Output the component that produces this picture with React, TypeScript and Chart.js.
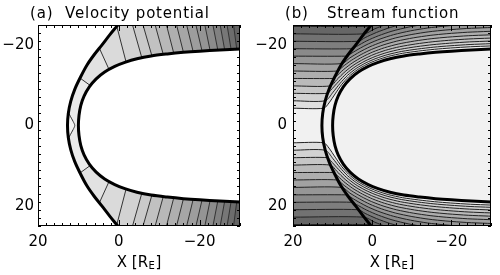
import React, { useEffect, useRef } from 'react';
import { Chart, registerables } from 'chart.js';

Chart.register(...registerables);

// ---------------- data ----------------
const X_MIN = -30;
const X_MAX = 20;
const Y_MIN = -25;
const Y_MAX = 25;
const X_TICKS = [20, 0, -20];
const Y_TICKS = [-20, 0, 20];
const MINOR_STEP = 2;

const PANEL_TAGS = ['(a)', '(b)'];
const PANEL_TITLES = ['Velocity potential', 'Stream function'];
const X_TITLE = ['X [R', 'E', ']'];

// Magnetopause, upper half (|y|), matched point by point with the bow shock below
const mpX = [10.0, 9.85, 9.4, 8.6, 7.3, 5.6, 3.5, 1.0, -1.5, -4.5, -8.0, -12.0, -16.0, -20.0, -25.0, -30.0, -35.0];
const mpY = [0, 2.5, 5.0, 7.3, 9.6, 11.6, 13.3, 14.7, 15.7, 16.6, 17.3, 17.8, 18.2, 18.5, 18.8, 19.0, 19.2];
// Bow shock, upper half (|y|)
const bsX = [12.7, 12.5, 11.9, 10.9, 9.5, 7.9, 6.1, 4.2, 2.2, 0.0, -2.5, -5.8, -9.5, -13.5, -18.5, -23.5, -28.5];
const bsY = [0, 3.0, 6.0, 9.0, 12.0, 15.0, 17.6, 20.0, 22.6, 25.3, 28.6, 33.0, 38.0, 43.0, 49.5, 56.0, 62.0];

// (a) velocity potential: small closed contour at the nose
const lensX = [12.6, 12.0, 11.3, 10.9, 11.3, 12.0, 12.6];
const lensY = [-3.5, -2.3, -1.0, 0, 1.0, 2.3, 3.5];
// (a) potential contours across the sheath (upper half; mirrored below)
const potInnerX = [7.0, 2.4, -1.8, -5.7, -8.2, -11.0, -13.6, -16.0, -18.4, -20.6, -22.6, -24.5, -26.2, -27.8, -29.2];
const potInnerY = [9.9, 13.9, 15.8, 16.85, 17.3, 17.7, 18.0, 18.2, 18.4, 18.55, 18.65, 18.8, 18.85, 18.9, 18.97];
const potOuterX = [9.6, 4.8, 0.5, -3.4, -6.0, -9.0, -11.8, -14.3, -16.8, -19.1, -21.3, -23.3, -25.1, -26.8, -28.4];
const potOuterY = [11.8, 19.2, 24.7, 25, 25, 25, 25, 25, 25, 25, 25, 25, 25, 25, 25];

// (b) stream function levels (|y| of upstream streamlines)
const streamLevels = [4.3, 6.15, 8.0, 9.85, 11.7, 13.55, 15.4, 17.25, 19.1, 20.95, 22.8, 24.65];
const SHEATH_COMPRESSION = 1.5;

// ---------------- styles ----------------
const POT_COLORS = ['#f3f3f3', '#eaeaea', '#e2e2e2', '#dadada', '#d2d2d2', '#cacaca', '#c1c1c1', '#b8b8b8',
  '#afafaf', '#a6a6a6', '#9d9d9d', '#949494', '#8b8b8b', '#818181', '#777777', '#6d6d6d', '#636363'];
const STREAM_CENTER = '#f1f1f1';
const STREAM_COLORS = ['#dedede', '#d2d2d2', '#c6c6c6', '#bababa', '#aeaeae', '#a2a2a2', '#969696', '#8a8a8a',
  '#7e7e7e', '#727272', '#666666', '#5a5a5a'];
const FONT = '"DejaVu Sans", sans-serif';
const FONT_SIZE = 15;

// ---------------- helpers ----------------
type P = { x: number; y: number };

function closedCurve(xs: number[], ys: number[]): P[] {
  const pts: P[] = [];
  for (let i = xs.length - 1; i >= 0; i--) pts.push({ x: xs[i], y: -ys[i] });
  for (let i = 1; i < xs.length; i++) pts.push({ x: xs[i], y: ys[i] });
  return pts;
}

function streamline(level: number, sign: number): P[] {
  const pts: P[] = [{ x: X_MAX, y: sign * level }];
  let started = false;
  for (let i = 1; i < bsX.length; i++) {
    if (bsY[i] <= level) continue;
    if (!started) {
      const f = (level - bsY[i - 1]) / (bsY[i] - bsY[i - 1]);
      pts.push({ x: bsX[i - 1] + f * (bsX[i] - bsX[i - 1]), y: sign * level });
      started = true;
    }
    const s = Math.pow(level / bsY[i], SHEATH_COMPRESSION);
    pts.push({ x: mpX[i] + s * (bsX[i] - mpX[i]), y: sign * (mpY[i] + s * (bsY[i] - mpY[i])) });
  }
  return pts;
}

const fmt = (v: number) => (v < 0 ? '\u2212' + Math.abs(v) : String(v));

function lineDs(data: P[], width: number, color: string, tension = 0) {
  return {
    data,
    showLine: true,
    borderColor: color,
    borderWidth: width,
    pointRadius: 0,
    fill: false,
    tension,
    clip: 0,
  } as any;
}

function pathPts(ctx: CanvasRenderingContext2D, chart: any, pts: P[], move = true) {
  const xs = chart.scales.x, ys = chart.scales.y;
  pts.forEach((p, i) => {
    const X = xs.getPixelForValue(p.x), Y = ys.getPixelForValue(p.y);
    if (i === 0 && move) ctx.moveTo(X, Y);
    else ctx.lineTo(X, Y);
  });
}

function clipArea(ctx: CanvasRenderingContext2D, a: any) {
  ctx.beginPath();
  ctx.rect(a.left, a.top, a.right - a.left, a.bottom - a.top);
  ctx.clip();
}

const FAR = 3000;

function drawPotentialFills(chart: any) {
  const { ctx, chartArea: a } = chart;
  const xs = chart.scales.x, ys = chart.scales.y;
  ctx.save();
  clipArea(ctx, a);
  ctx.fillStyle = POT_COLORS[1];
  ctx.fillRect(a.left, a.top, a.right - a.left, a.bottom - a.top);
  // nose lens
  ctx.beginPath();
  pathPts(ctx, chart, lensX.map((x, i) => ({ x, y: lensY[i] })));
  ctx.lineTo(a.left - FAR, ys.getPixelForValue(lensY[lensY.length - 1]));
  ctx.lineTo(a.left - FAR, ys.getPixelForValue(lensY[0]));
  ctx.closePath();
  ctx.fillStyle = POT_COLORS[0];
  ctx.fill();
  // downstream of each contour
  for (let k = 0; k < potInnerX.length; k++) {
    const ix = potInnerX[k], iy = potInnerY[k], ox = potOuterX[k], oy = potOuterY[k];
    const dx = ox - ix, dy = oy - iy;
    const t0 = -0.4, t1 = (80 - iy) / dy;
    const inE = { x: ix + t0 * dx, y: iy + t0 * dy };
    const outE = { x: ix + t1 * dx, y: iy + t1 * dy };
    ctx.beginPath();
    pathPts(ctx, chart, [
      { x: outE.x, y: -outE.y }, { x: inE.x, y: -inE.y }, { x: inE.x, y: inE.y }, { x: outE.x, y: outE.y },
    ]);
    ctx.lineTo(a.right + FAR, ys.getPixelForValue(outE.y));
    ctx.lineTo(a.right + FAR, ys.getPixelForValue(-outE.y));
    ctx.closePath();
    ctx.fillStyle = POT_COLORS[k + 2];
    ctx.fill();
  }
  // outside the bow shock
  const n = bsX.length - 1;
  ctx.beginPath();
  pathPts(ctx, chart, closedCurve(bsX, bsY));
  ctx.lineTo(a.left - FAR, ys.getPixelForValue(bsY[n]));
  ctx.lineTo(a.left - FAR, ys.getPixelForValue(-bsY[n]));
  ctx.closePath();
  ctx.fillStyle = '#ffffff';
  ctx.fill();
  // inside magnetopause
  ctx.beginPath();
  pathPts(ctx, chart, closedCurve(mpX, mpY));
  ctx.closePath();
  ctx.fill();
  ctx.restore();
}

function drawStreamFills(chart: any) {
  const { ctx, chartArea: a } = chart;
  const xs = chart.scales.x, ys = chart.scales.y;
  ctx.save();
  clipArea(ctx, a);
  ctx.fillStyle = STREAM_CENTER;
  ctx.fillRect(a.left, a.top, a.right - a.left, a.bottom - a.top);
  streamLevels.forEach((lv, k) => {
    [-1, 1].forEach((sign) => {
      const pts = streamline(lv, sign);
      const last = pts[pts.length - 1];
      const edge = sign < 0 ? a.top - FAR : a.bottom + FAR;
      ctx.beginPath();
      ctx.moveTo(a.left - 20, ys.getPixelForValue(sign * lv));
      pathPts(ctx, chart, pts, false);
      ctx.lineTo(xs.getPixelForValue(last.x), edge);
      ctx.lineTo(a.left - 20, edge);
      ctx.closePath();
      ctx.fillStyle = STREAM_COLORS[k];
      ctx.fill();
    });
  });
  ctx.beginPath();
  pathPts(ctx, chart, closedCurve(mpX, mpY));
  ctx.closePath();
  ctx.fillStyle = STREAM_CENTER;
  ctx.fill();
  ctx.restore();
}

function drawFrame(chart: any, idx: number, tagX: number, titleX: number) {
  const { ctx, chartArea: a } = chart;
  const xs = chart.scales.x, ys = chart.scales.y;
  ctx.save();
  ctx.strokeStyle = '#000';
  ctx.lineWidth = 1;
  ctx.strokeRect(a.left + 0.5, a.top + 0.5, a.right - a.left - 1, a.bottom - a.top - 1);
  ctx.beginPath();
  for (let v = X_MIN; v <= X_MAX + 1e-6; v += MINOR_STEP) {
    const len = X_TICKS.includes(v) ? 6 : 3;
    const X = Math.round(xs.getPixelForValue(v)) + 0.5;
    ctx.moveTo(X, a.bottom); ctx.lineTo(X, a.bottom - len);
    ctx.moveTo(X, a.top); ctx.lineTo(X, a.top + len);
  }
  for (let v = Y_MIN; v <= Y_MAX + 1e-6; v += MINOR_STEP) {
    const len = Y_TICKS.includes(v) ? 6 : 3;
    const Y = Math.round(ys.getPixelForValue(v)) + 0.5;
    ctx.moveTo(a.left, Y); ctx.lineTo(a.left + len, Y);
    ctx.moveTo(a.right, Y); ctx.lineTo(a.right - len, Y);
  }
  ctx.stroke();

  ctx.fillStyle = '#000';
  ctx.textBaseline = 'alphabetic';
  ctx.textAlign = 'left';
  ctx.font = `${FONT_SIZE}px ${FONT}`;
  (ctx as any).letterSpacing = '0.8px';
  ctx.fillText(PANEL_TAGS[idx], tagX, 18);
  ctx.fillText(PANEL_TITLES[idx], titleX, 18);
  (ctx as any).letterSpacing = '0px';

  // x axis title with subscript
  const big = `${FONT_SIZE}px ${FONT}`;
  const small = `10px ${FONT}`;
  ctx.font = big;
  const w1 = ctx.measureText(X_TITLE[0]).width;
  const w3 = ctx.measureText(X_TITLE[2]).width;
  ctx.font = small;
  const w2 = ctx.measureText(X_TITLE[1]).width;
  const total = w1 + w2 + w3 + 1;
  let x0 = (a.left + a.right) / 2 - total / 2;
  const base = 267;
  ctx.font = big;
  ctx.fillText(X_TITLE[0], x0, base);
  x0 += w1 + 0.5;
  ctx.font = small;
  ctx.fillText(X_TITLE[1], x0, base + 2);
  x0 += w2 + 0.5;
  ctx.font = big;
  ctx.fillText(X_TITLE[2], x0, base);
  ctx.restore();
}

function makeConfig(idx: number): any {
  const leftWidth = idx === 0 ? 38 : 43;
  const rightPad = idx === 0 ? 10 : 9;
  const yPad = idx === 0 ? 4 : 6;
  const tickFont = { family: FONT, size: FONT_SIZE };

  const datasets: any[] = [];
  datasets.push(lineDs(closedCurve(mpX, mpY), 3, '#000', 0.3));
  datasets.push(lineDs(closedCurve(bsX, bsY), 3, '#000', 0.3));
  if (idx === 0) {
    datasets.push(lineDs(lensX.map((x, i) => ({ x, y: lensY[i] })), 1, '#333', 0.3));
    for (let k = 0; k < potInnerX.length; k++) {
      [-1, 1].forEach((s) => {
        datasets.push(lineDs([
          { x: potInnerX[k], y: s * potInnerY[k] },
          { x: potOuterX[k], y: s * potOuterY[k] },
        ], 1, '#333'));
      });
    }
  } else {
    streamLevels.forEach((lv) => {
      [-1, 1].forEach((s) => datasets.push(lineDs(streamline(lv, s), 1, '#222', 0.25)));
    });
  }

  const fillPlugin = {
    id: 'fills' + idx,
    beforeDatasetsDraw(chart: any) {
      if (idx === 0) drawPotentialFills(chart);
      else drawStreamFills(chart);
    },
  };
  const framePlugin = {
    id: 'frame' + idx,
    afterDraw(chart: any) {
      if (idx === 0) drawFrame(chart, 0, 30, 65);
      else drawFrame(chart, 1, 35, 77);
    },
  };

  return {
    type: 'scatter',
    data: { datasets },
    plugins: [fillPlugin, framePlugin],
    options: {
      responsive: false,
      animation: false,
      devicePixelRatio: 1,
      events: [],
      elements: { line: { capBezierPoints: false } },
      layout: { padding: { top: 25, right: rightPad, left: 0, bottom: 0 } },
      plugins: { legend: { display: false }, tooltip: { enabled: false }, title: { display: false } },
      scales: {
        x: {
          type: 'linear',
          min: X_MIN,
          max: X_MAX,
          reverse: true,
          grid: { display: false, drawTicks: false },
          border: { display: false },
          afterBuildTicks: (s: any) => { s.ticks = X_TICKS.map((v) => ({ value: v })); },
          afterFit: (s: any) => { s.height = 49; },
          ticks: { padding: 7, font: tickFont, color: '#000', callback: (v: any) => fmt(Number(v)), maxRotation: 0, autoSkip: false },
        },
        y: {
          type: 'linear',
          min: Y_MIN,
          max: Y_MAX,
          reverse: true,
          grid: { display: false, drawTicks: false },
          border: { display: false },
          afterBuildTicks: (s: any) => { s.ticks = Y_TICKS.map((v) => ({ value: v })); },
          afterFit: (s: any) => { s.width = leftWidth; },
          ticks: { padding: yPad, font: tickFont, color: '#000', callback: (v: any) => fmt(Number(v)), autoSkip: false },
        },
      },
    },
  };
}

function Panel({ idx }: { idx: number }) {
  const ref = useRef<HTMLCanvasElement>(null);
  useEffect(() => {
    const chart = new Chart(ref.current as HTMLCanvasElement, makeConfig(idx));
    return () => chart.destroy();
  }, [idx]);
  return <canvas ref={ref} width={250} height={275} style={{ display: 'block', width: 250, height: 275 }} />;
}

export default function App() {
  return (
    <div style={{ position: 'fixed', left: 0, top: 0, width: 500, height: 275, display: 'flex', background: '#fff' }}>
      <Panel idx={0} />
      <Panel idx={1} />
    </div>
  );
}
